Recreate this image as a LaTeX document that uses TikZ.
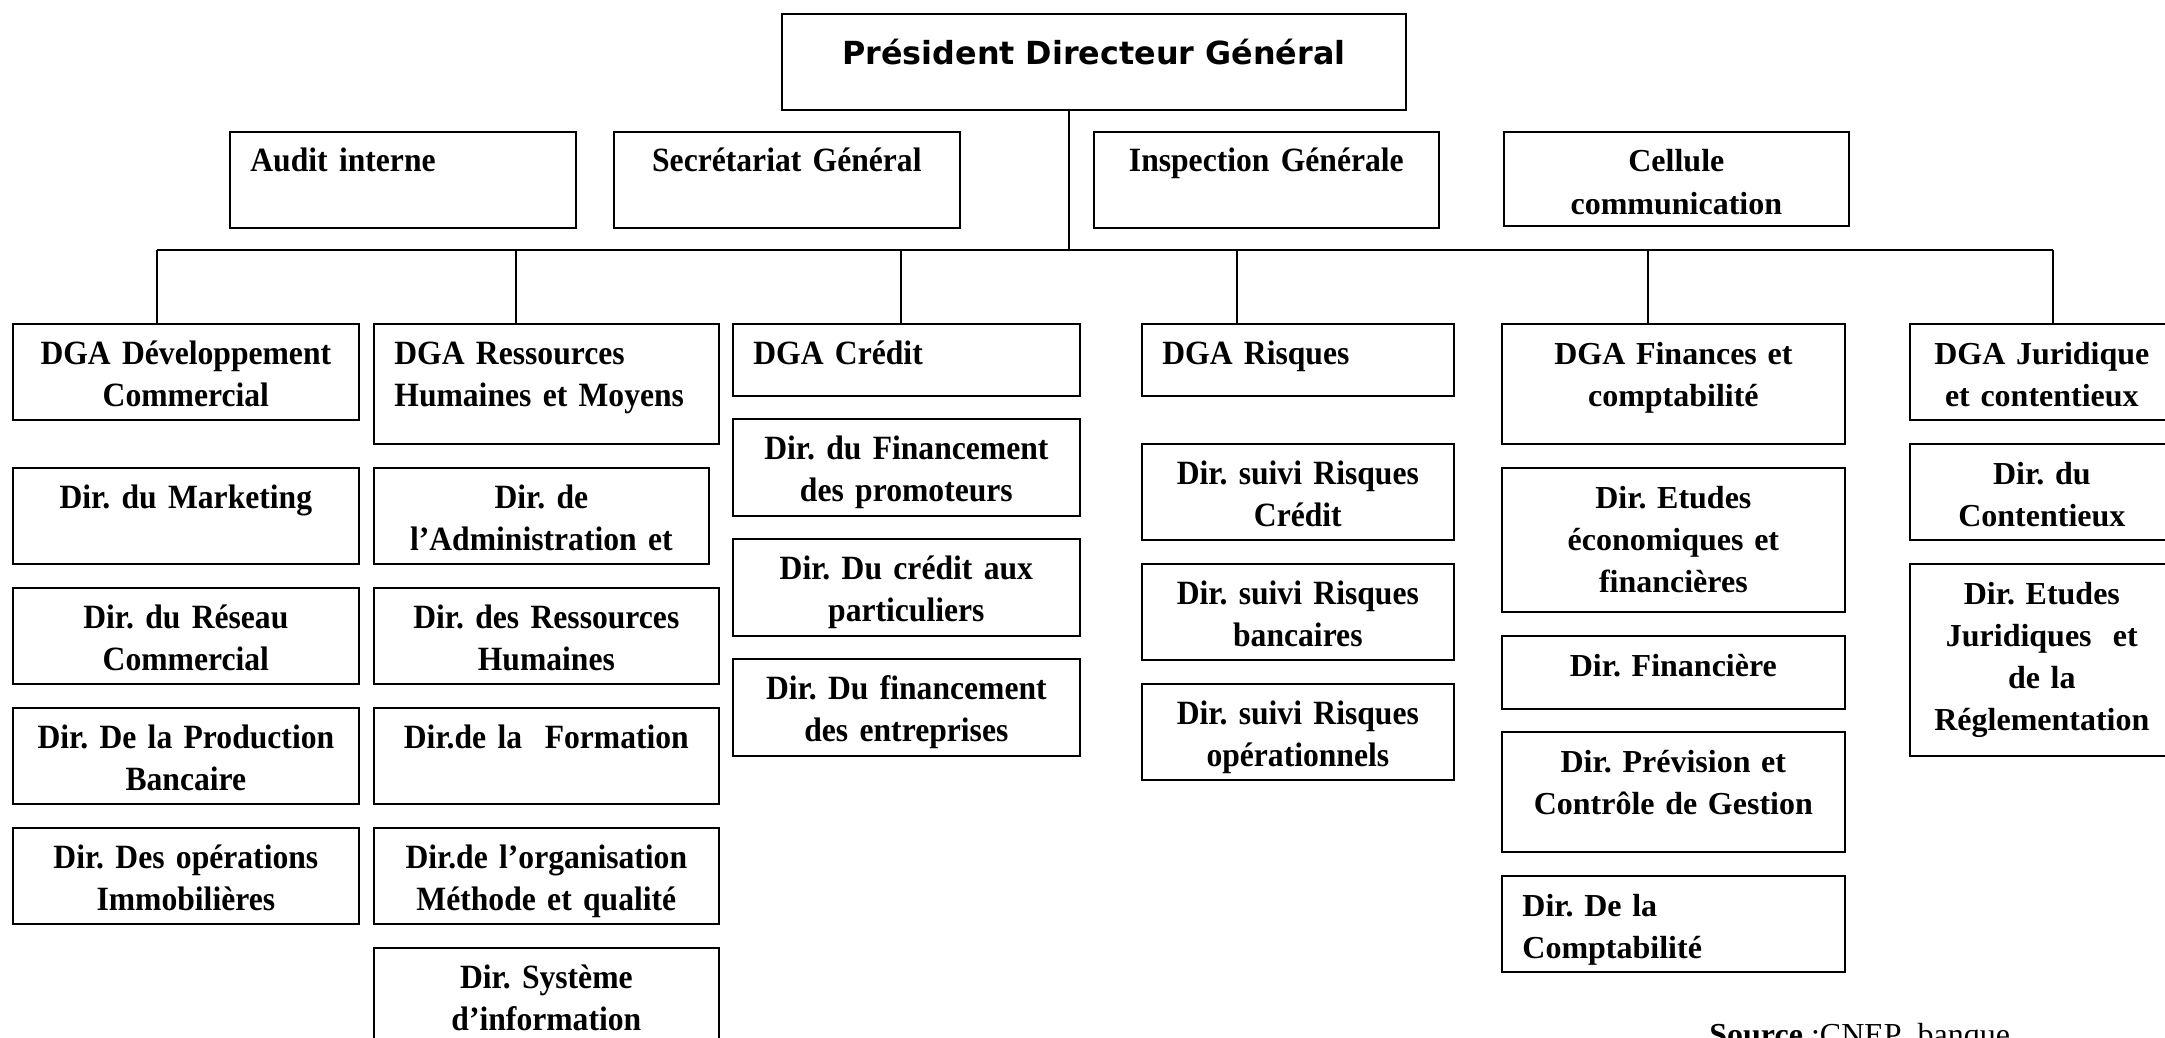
\documentclass[tikz,border=0pt]{standalone}
\usepackage{fontspec}
\setmainfont{Liberation Serif}
\newfontfamily\narrowserif{Liberation Serif}[FakeStretch=0.93]
\newfontfamily\titlesans{DejaVu Sans}
\usetikzlibrary{positioning}
\frenchspacing

\tikzset{
  unit/.style={draw, line width=0.85pt, anchor=north west, inner sep=0pt},
  narrowtxt/.style={font=\narrowserif\bfseries\fontsize{17}{21.4}\selectfont, text width=210pt, align=center, inner sep=0pt, anchor=base, yshift=-20.5pt},
  widetxt/.style={font=\bfseries\fontsize{16}{21}\selectfont, text width=210pt, align=center, inner sep=0pt, anchor=base, yshift=-20.5pt},
  lefttxt/.style={anchor=base west, align=left, xshift=10.5pt},
  titletxt/.style={font=\titlesans\bfseries\fontsize{15.9}{19}\selectfont, inner sep=0pt, anchor=base, yshift=-26pt},
  link/.style={line width=0.65pt},
}

\begin{document}
\begin{tikzpicture}[x=0.5pt, y=-0.5pt]
    \useasboundingbox (0,0) rectangle (2165,1038);

    % Top of the chart
    \node[unit, minimum width=312pt, minimum height=48pt, label={[titletxt]north:{Président Directeur Général}}] (pdg) at (781,13) {};

    % Staff units
    \node[unit, minimum width=173pt, minimum height=48pt, label={[narrowtxt, lefttxt]north west:{Audit interne}}] (audit) at (229,131) {};
    \node[unit, minimum width=173pt, minimum height=48pt, label={[narrowtxt]north:{Secrétariat Général}}] (sg) at (613,131) {};
    \node[unit, minimum width=172.5pt, minimum height=48pt, label={[narrowtxt]north:{Inspection Générale}}] (ig) at (1093,131) {};
    \node[unit, minimum width=172.5pt, minimum height=47pt, label={[widetxt]north:{Cellule\\communication}}] (com) at (1503,131) {};

    % DGA row
    \node[unit, minimum width=173pt, minimum height=48pt, label={[narrowtxt]north:{DGA Développement\\Commercial}}] (dev) at (12,323) {};
    \node[unit, minimum width=172.5pt, minimum height=60pt, label={[narrowtxt, lefttxt]north west:{DGA Ressources\\Humaines et Moyens}}] (rhm) at (373,323) {};
    \node[unit, minimum width=173.5pt, minimum height=36pt, label={[narrowtxt, lefttxt]north west:{DGA Crédit}}] (cred) at (732,323) {};
    \node[unit, minimum width=156pt, minimum height=36pt, label={[narrowtxt, lefttxt]north west:{DGA Risques}}] (risq) at (1141,323) {};
    \node[unit, minimum width=171.5pt, minimum height=60pt, label={[widetxt]north:{DGA Finances et\\comptabilité}}] (fin) at (1501,323) {};
    \node[unit, minimum width=132pt, minimum height=48pt, label={[widetxt]north:{DGA Juridique\\et contentieux}}] (jur) at (1909,323) {};

    % Directions under DGA Developpement Commercial
    \node[unit, minimum width=173pt, minimum height=48pt, label={[narrowtxt]north:{Dir. du Marketing}}] (mkt) at (12,467) {};
    \node[unit, minimum width=173pt, minimum height=48pt, label={[narrowtxt]north:{Dir. du Réseau\\Commercial}}] (res) at (12,587) {};
    \node[unit, minimum width=173pt, minimum height=48pt, label={[narrowtxt]north:{Dir. De la Production\\Bancaire}}] (prod) at (12,707) {};
    \node[unit, minimum width=173pt, minimum height=48pt, label={[narrowtxt]north:{Dir. Des opérations\\Immobilières}}] (immo) at (12,827) {};

    % Directions under DGA Ressources Humaines et Moyens
    \node[unit, minimum width=167.5pt, minimum height=48pt, label={[narrowtxt]north:{Dir. de\\l’Administration et}}] (adm) at (373,467) {};
    \node[unit, minimum width=172.5pt, minimum height=48pt, label={[narrowtxt]north:{Dir. des Ressources\\Humaines}}] (drh) at (373,587) {};
    \node[unit, minimum width=172.5pt, minimum height=48pt, label={[narrowtxt]north:{Dir.de la~ Formation}}] (form) at (373,707) {};
    \node[unit, minimum width=172.5pt, minimum height=48pt, label={[narrowtxt]north:{Dir.de l’organisation\\Méthode et qualité}}] (org) at (373,827) {};
    \node[unit, minimum width=172.5pt, minimum height=56pt, label={[narrowtxt]north:{Dir. Système\\d’information}}] (si) at (373,947) {};

    % Directions under DGA Credit
    \node[unit, minimum width=173.5pt, minimum height=48.5pt, label={[narrowtxt]north:{Dir. du Financement\\des promoteurs}}] (prom) at (732,418) {};
    \node[unit, minimum width=173.5pt, minimum height=48.5pt, label={[narrowtxt]north:{Dir. Du crédit aux\\particuliers}}] (part) at (732,538) {};
    \node[unit, minimum width=173.5pt, minimum height=48.5pt, label={[narrowtxt]north:{Dir. Du financement\\des entreprises}}] (entr) at (732,658) {};

    % Directions under DGA Risques
    \node[unit, minimum width=156pt, minimum height=48pt, label={[narrowtxt]north:{Dir. suivi Risques\\Crédit}}] (rcr) at (1141,443) {};
    \node[unit, minimum width=156pt, minimum height=48pt, label={[narrowtxt]north:{Dir. suivi Risques\\bancaires}}] (rbq) at (1141,563) {};
    \node[unit, minimum width=156pt, minimum height=48pt, label={[narrowtxt]north:{Dir. suivi Risques\\opérationnels}}] (rop) at (1141,683) {};

    % Directions under DGA Finances et comptabilite
    \node[unit, minimum width=171.5pt, minimum height=72pt, label={[widetxt]north:{Dir. Etudes\\économiques et\\financières}}] (eco) at (1501,467) {};
    \node[unit, minimum width=171.5pt, minimum height=36.5pt, label={[widetxt]north:{Dir. Financière}}] (dfin) at (1501,635) {};
    \node[unit, minimum width=171.5pt, minimum height=60pt, label={[widetxt]north:{Dir. Prévision et\\Contrôle de Gestion}}] (prev) at (1501,731) {};
    \node[unit, minimum width=171.5pt, minimum height=48pt, label={[widetxt, lefttxt]north west:{Dir. De la\\Comptabilité}}] (compta) at (1501,875) {};

    % Directions under DGA Juridique et contentieux
    \node[unit, minimum width=132pt, minimum height=48pt, label={[widetxt]north:{Dir. du\\Contentieux}}] (cont) at (1909,443) {};
    \node[unit, minimum width=132pt, minimum height=96pt, label={[widetxt]north:{Dir. Etudes\\Juridiques~ et\\de la\\Réglementation}}] (ejur) at (1909,563) {};

    % Source of the chart
    \node[font=\fontsize{16}{20}\selectfont, anchor=base west, inner sep=0pt] (src) at (1709,1045) {\textbf{Source} :CNEP~ banque};

    % Points of the branch line
    \coordinate (hub) at (1069,250);
    \coordinate (d1) at (157,250);
    \coordinate (d2) at (516,250);
    \coordinate (d3) at (901,250);
    \coordinate (d4) at (1237,250);
    \coordinate (d5) at (1648,250);
    \coordinate (d6) at (2053,250);

    % Draw the links
    \draw[link] (pdg.south -| hub) -- (hub);
    \draw[link] (d1) -- (d6);
    \draw[link] (d1) -- (d1 |- dev.north);
    \draw[link] (d2) -- (d2 |- rhm.north);
    \draw[link] (d3) -- (d3 |- cred.north);
    \draw[link] (d4) -- (d4 |- risq.north);
    \draw[link] (d5) -- (d5 |- fin.north);
    \draw[link] (d6) -- (d6 |- jur.north);

\end{tikzpicture}
\end{document}
